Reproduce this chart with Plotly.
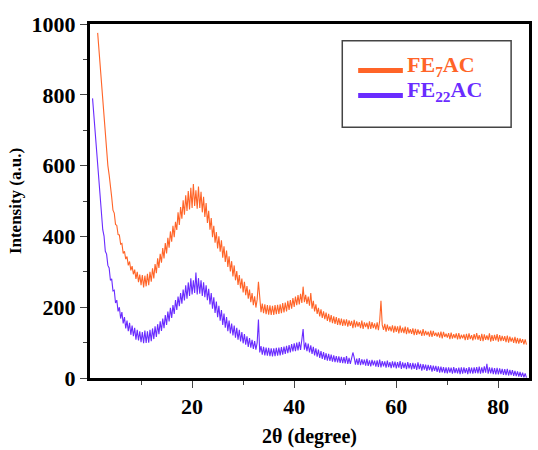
import plotly.graph_objects as go

# 2θ scan sampled every 0.25 degree
fe7_start, fe22_start, step = 1.5, 0.5, 0.25

fe7ac = [
    975, 928,
    876, 838, 786, 744,
    686, 651, 600, 574,
    530, 511, 474, 466,
    434, 431, 405, 404,
    378, 380, 352, 358,
    336, 343, 318, 329,
    304, 316, 293, 306,
    280, 300, 271, 292,
    262, 291, 256, 289,
    259, 294, 262, 300,
    272, 310, 281, 322,
    296, 338, 311, 351,
    326, 367, 338, 381,
    352, 396, 368, 414,
    385, 430, 398, 441,
    418, 468, 432, 483,
    450, 502, 461, 516,
    472, 528, 476, 537,
    480, 548, 486, 530,
    478, 541, 480, 526,
    468, 512, 455, 494,
    438, 472, 419, 452,
    398, 430, 382, 412,
    366, 400, 357, 389,
    340, 372, 328, 360,
    314, 344, 301, 330,
    287, 318, 276, 302,
    263, 291, 253, 281,
    242, 272, 234, 260,
    224, 250, 214, 240,
    206, 231, 199, 222,
    272, 214, 186, 210,
    183, 208, 180, 206,
    179, 205, 178, 204,
    178, 206, 180, 207,
    181, 208, 183, 212,
    185, 213, 188, 218,
    192, 220, 196, 226,
    201, 230, 206, 234,
    208, 238, 212, 258,
    214, 235, 209, 230,
    204, 240, 196, 218,
    188, 208, 181, 198,
    174, 194, 170, 188,
    166, 185, 161, 181,
    158, 178, 155, 174,
    153, 172, 150, 169,
    149, 168, 147, 166,
    148, 166, 145, 163,
    147, 161, 141, 164,
    143, 160, 145, 158,
    141, 162, 139, 157,
    144, 156, 138, 160,
    139, 158, 141, 154,
    137, 157, 135, 162,
    218, 150, 136, 153,
    131, 151, 134, 146,
    132, 149, 128, 147,
    130, 146, 126, 148,
    128, 142, 127, 145,
    124, 143, 126, 138,
    125, 140, 121, 139,
    122, 137, 124, 134,
    119, 138, 120, 133,
    121, 131, 117, 134,
    116, 133, 119, 128,
    117, 129, 114, 131,
    112, 130, 116, 125,
    114, 127, 110, 128,
    111, 124, 113, 126,
    109, 127, 110, 122,
    112, 123, 107, 125,
    108, 126, 110, 121,
    106, 124, 109, 127,
    108, 121, 105, 125,
    104, 123, 108, 120,
    107, 126, 103, 121,
    105, 122, 106, 124,
    103, 121, 104, 119,
    105, 118, 101, 120,
    100, 117, 103, 114,
    99, 116, 98, 113,
    97, 112, 99, 110,
    95, 109, 94,
]

fe22ac = [
    790, 742,
    688, 645, 586, 551,
    494, 466, 419, 401,
    358, 350, 318, 311,
    276, 280, 246, 248,
    212, 220, 188, 200,
    168, 186, 154, 172,
    140, 162, 132, 156,
    122, 148, 118, 142,
    108, 136, 106, 132,
    101, 130, 98, 134,
    99, 132, 100, 136,
    104, 140, 110, 146,
    116, 152, 124, 160,
    133, 168, 141, 178,
    150, 188, 160, 198,
    170, 206, 181, 220,
    192, 230, 203, 240,
    210, 250, 219, 262,
    224, 270, 232, 282,
    236, 276, 240, 298,
    236, 282, 238, 276,
    232, 270, 228, 262,
    220, 252, 208, 240,
    196, 228, 184, 216,
    172, 204, 162, 192,
    150, 182, 142, 172,
    132, 162, 126, 154,
    120, 148, 114, 142,
    108, 136, 103, 130,
    98, 124, 94, 118,
    88, 113, 86, 108,
    82, 104, 80, 100,
    165, 72, 90, 66,
    88, 64, 86, 63,
    85, 62, 84, 61,
    84, 62, 85, 63,
    86, 64, 87, 66,
    89, 68, 91, 70,
    93, 72, 96, 75,
    98, 76, 100, 78,
    102, 79, 104, 138,
    80, 100, 76, 97,
    72, 92, 68, 88,
    64, 84, 60, 80,
    57, 76, 54, 73,
    51, 70, 49, 68,
    48, 66, 46, 64,
    45, 62, 44, 61,
    43, 60, 42, 59,
    41, 62, 40, 57,
    40, 56, 72, 58,
    38, 55, 37, 56,
    36, 53, 38, 52,
    35, 54, 34, 50,
    33, 51, 36, 49,
    32, 50, 31, 52,
    30, 48, 33, 47,
    29, 49, 31, 45,
    28, 47, 30, 46,
    27, 45, 29, 48,
    26, 44, 28, 43,
    25, 45, 27, 42,
    24, 43, 26, 41,
    23, 44, 25, 40,
    21, 39, 24, 38,
    20, 37, 22, 36,
    18, 35, 20, 34,
    17, 33, 15, 32,
    16, 31, 14, 30,
    13, 30, 15, 29,
    12, 31, 14, 28,
    13, 29, 11, 30,
    12, 30, 14, 28,
    11, 31, 13, 29,
    12, 30, 14, 31,
    13, 32, 12, 30,
    14, 33, 15, 40,
    12, 30, 13, 29,
    11, 28, 10, 29,
    10, 27, 11, 26,
    9, 25, 8, 26,
    7, 23, 8, 22,
    6, 20, 5, 19,
    4, 17, 3, 15,
    2, 13, 1,
]

x_ticks = [20, 40, 60, 80]
x_minor = [10, 30, 50, 70]
y_ticks = [0, 200, 400, 600, 800, 1000]
y_minor = [100, 300, 500, 700, 900]
legend_labels = ["FE<sub>7</sub>AC", "FE<sub>22</sub>AC"]

x7 = [fe7_start + step * i for i in range(len(fe7ac))]
x22 = [fe22_start + step * i for i in range(len(fe22ac))]

ORANGE = "#FF6428"
PURPLE = "#6A2CFF"
FONT = "Liberation Serif"

fig = go.Figure()
fig.add_trace(go.Scatter(x=x7, y=fe7ac, mode="lines", name="FE7AC",
                         line=dict(color=ORANGE, width=1.1), showlegend=False))
fig.add_trace(go.Scatter(x=x22, y=fe22ac, mode="lines", name="FE22AC",
                         line=dict(color=PURPLE, width=1.1), showlegend=False))

axis_common = dict(
    showline=True, linecolor="black", linewidth=3, mirror=True,
    ticks="outside", tickcolor="#444", ticklen=7, tickwidth=1,
    showgrid=False, zeroline=False,
    tickfont=dict(family=FONT, size=22, color="black", weight="bold"),
)

fig.update_xaxes(range=[0, 86], tickvals=x_ticks,
                 minor=dict(tickvals=x_minor, ticks="outside", ticklen=4, tickcolor="#444"),
                 title=dict(text="<b>2θ (degree)</b>", font=dict(family=FONT, size=20, color="black"),
                            standoff=11),
                 **axis_common)
fig.update_yaxes(range=[0, 1000], tickvals=y_ticks,
                 minor=dict(tickvals=y_minor, ticks="outside", ticklen=4, tickcolor="#444"),
                 title=dict(text="<b>Intensity (a.u.)</b>", font=dict(family=FONT, size=17, color="black"),
                            standoff=6),
                 **axis_common)

# legend box drawn manually
fig.add_shape(type="rect", xref="paper", yref="paper",
              x0=(344 - 90) / 442, x1=(514 - 90) / 442,
              y0=(381 - 128) / 357, y1=(381 - 41) / 357,
              line=dict(color="#444", width=1.5), fillcolor="white")
for row_y, color, label in [(71, ORANGE, legend_labels[0]), (96, PURPLE, legend_labels[1])]:
    yp = (381 - row_y) / 357
    fig.add_shape(type="line", xref="paper", yref="paper",
                  x0=(360 - 90) / 442, x1=(405 - 90) / 442, y0=yp, y1=yp,
                  line=dict(color=color, width=5))
    fig.add_annotation(xref="paper", yref="paper", x=(407 - 90) / 442, y=yp + 0.012,
                       xanchor="left", yanchor="middle", showarrow=False,
                       text=f"<b>{label}</b>",
                       font=dict(family=FONT, size=22, color=color))

fig.update_layout(
    width=538, height=450,
    margin=dict(l=90, r=6, t=24, b=69),
    paper_bgcolor="white", plot_bgcolor="white",
)

fig.write_html("out.html")
